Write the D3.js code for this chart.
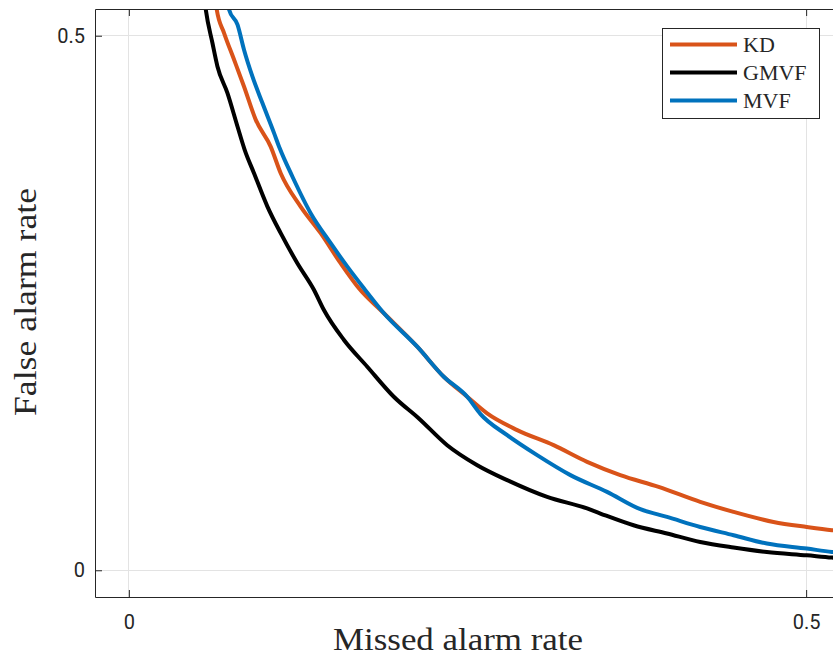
<!DOCTYPE html>
<html>
<head>
<meta charset="utf-8">
<script src="https://cdn.jsdelivr.net/npm/d3@7"></script>
<style>
  html, body { margin: 0; padding: 0; background: #fff; }
  svg { display: block; }
</style>
</head>
<body>
<svg id="chart" width="833" height="662"></svg>
<script>
// ---- data (missed alarm rate, false alarm rate) ----
const seriesNames = ["KD", "GMVF", "MVF"];

const kdX = [0.0640, 0.0649, 0.0703, 0.0777, 0.0850, 0.0937, 0.1047, 0.1121, 0.1268, 0.1416, 0.1563, 0.1698, 0.1883, 0.2129, 0.2325, 0.2498, 0.2645, 0.2867, 0.3136, 0.3383, 0.3628, 0.3911, 0.4218, 0.4464, 0.4759, 0.5005, 0.5190, 0.5300];
const kdY = [0.5320, 0.5243, 0.5025, 0.4775, 0.4525, 0.4213, 0.3963, 0.3714, 0.3402, 0.3153, 0.2872, 0.2638, 0.2404, 0.2091, 0.1810, 0.1623, 0.1467, 0.1311, 0.1170, 0.1014, 0.0890, 0.0780, 0.0640, 0.0546, 0.0452, 0.0405, 0.0375, 0.0362];

const gmvfX = [0.0560, 0.0568, 0.0617, 0.0654, 0.0728, 0.0802, 0.0855, 0.0924, 0.1023, 0.1121, 0.1244, 0.1367, 0.1440, 0.1588, 0.1760, 0.1956, 0.2141, 0.2350, 0.2572, 0.2793, 0.3088, 0.3383, 0.3481, 0.3726, 0.3973, 0.4218, 0.4464, 0.4710, 0.5005, 0.5190, 0.5300];
const gmvfY = [0.5320, 0.5243, 0.4932, 0.4713, 0.4463, 0.4151, 0.3933, 0.3714, 0.3402, 0.3153, 0.2872, 0.2622, 0.2434, 0.2154, 0.1904, 0.1623, 0.1420, 0.1170, 0.0983, 0.0843, 0.0686, 0.0578, 0.0531, 0.0421, 0.0344, 0.0265, 0.0213, 0.0171, 0.0140, 0.0119, 0.0110];

const mvfX = [0.0730, 0.0740, 0.0802, 0.0850, 0.0912, 0.0986, 0.1072, 0.1113, 0.1207, 0.1342, 0.1490, 0.1613, 0.1735, 0.1883, 0.2129, 0.2325, 0.2498, 0.2596, 0.2793, 0.3014, 0.3260, 0.3530, 0.3776, 0.3973, 0.4218, 0.4464, 0.4710, 0.5005, 0.5190, 0.5300];
const mvfY = [0.5320, 0.5243, 0.5103, 0.4869, 0.4619, 0.4370, 0.4089, 0.3949, 0.3683, 0.3340, 0.3059, 0.2840, 0.2638, 0.2404, 0.2091, 0.1810, 0.1623, 0.1461, 0.1264, 0.1077, 0.0890, 0.0733, 0.0571, 0.0499, 0.0405, 0.0328, 0.0250, 0.0203, 0.0171, 0.0160];

const xTicks = [0, 0.5];
const yTicks = [0, 0.5];
const xDomain = [-0.025, 0.525];
const yDomain = [-0.025, 0.525];

const colors = { KD: "#D95319", GMVF: "#000000", MVF: "#0072BD" };

// ---- layout ----
const svg = d3.select("#chart");
const pLeft = 95, pTop = 9, pRight = 840, pBottom = 597;

const x = d3.scaleLinear().domain(xDomain).range([pLeft, pRight]);
const y = d3.scaleLinear().domain(yDomain).range([pBottom, pTop]);

const axisColor = "#262626";
const gridColor = "#e3e3e3";

// grid
const grid = svg.append("g");
grid.selectAll("line.gx").data(xTicks).join("line").attr("class", "gx")
  .attr("x1", d => x(d)).attr("x2", d => x(d))
  .attr("y1", pTop).attr("y2", pBottom)
  .attr("stroke", gridColor).attr("stroke-width", 1).attr("shape-rendering", "crispEdges");
grid.selectAll("line.gy").data(yTicks).join("line").attr("class", "gy")
  .attr("y1", d => y(d)).attr("y2", d => y(d))
  .attr("x1", pLeft).attr("x2", pRight)
  .attr("stroke", gridColor).attr("stroke-width", 1).attr("shape-rendering", "crispEdges");

// clip
svg.append("clipPath").attr("id", "plotclip")
  .append("rect").attr("x", pLeft).attr("y", pTop)
  .attr("width", pRight - pLeft).attr("height", pBottom - pTop);

const line = d3.line().curve(d3.curveMonotoneX).x(d => x(d[0])).y(d => y(d[1]));
const series = [
  { name: "KD", xs: kdX, ys: kdY },
  { name: "MVF", xs: mvfX, ys: mvfY },
  { name: "GMVF", xs: gmvfX, ys: gmvfY }
];
const plot = svg.append("g").attr("clip-path", "url(#plotclip)");
series.forEach(s => {
  const pts = s.xs.map((v, i) => [v, s.ys[i]]);
  plot.append("path").datum(pts)
    .attr("d", line)
    .attr("fill", "none")
    .attr("stroke", colors[s.name])
    .attr("stroke-width", 4)
    .attr("stroke-linejoin", "round");
});

// axes with inward ticks on all four sides
const tickLen = 7;
const fmt = d => (d === 0 ? "0" : String(d));
const axB = d3.axisBottom(x).tickValues(xTicks).tickSizeInner(-tickLen).tickSizeOuter(0).tickPadding(18).tickFormat(fmt);
const axT = d3.axisTop(x).tickValues(xTicks).tickSizeInner(-tickLen).tickSizeOuter(0).tickFormat("");
const axL = d3.axisLeft(y).tickValues(yTicks).tickSizeInner(-tickLen).tickSizeOuter(0).tickPadding(10).tickFormat(fmt);
const axR = d3.axisRight(y).tickValues(yTicks).tickSizeInner(-tickLen).tickSizeOuter(0).tickFormat("");

function styleAxis(g) {
  g.select(".domain").attr("stroke", axisColor).attr("stroke-width", 1);
  g.selectAll(".tick line").attr("stroke", axisColor).attr("stroke-width", 1);
  g.selectAll(".tick text").attr("fill", axisColor)
    .attr("font-family", "Roboto, 'Liberation Sans', sans-serif").attr("font-size", 20);
}
svg.append("g").attr("transform", `translate(0,${pBottom})`).call(axB).call(styleAxis);
svg.append("g").attr("transform", `translate(0,${pTop})`).call(axT).call(styleAxis);
svg.append("g").attr("transform", `translate(${pLeft},0)`).call(axL).call(styleAxis);
svg.append("g").attr("transform", `translate(${pRight},0)`).call(axR).call(styleAxis);

// axis labels
const serif = "'Liberation Serif', 'DejaVu Serif', serif";
svg.append("text")
  .attr("x", 458).attr("y", 650)
  .attr("text-anchor", "middle")
  .attr("font-family", serif).attr("font-size", 31)
  .attr("fill", axisColor)
  .attr("textLength", 250).attr("lengthAdjust", "spacingAndGlyphs")
  .text("Missed alarm rate");
svg.append("text")
  .attr("transform", "translate(36,302) rotate(-90)")
  .attr("text-anchor", "middle")
  .attr("font-family", serif).attr("font-size", 31)
  .attr("fill", axisColor)
  .attr("textLength", 228).attr("lengthAdjust", "spacingAndGlyphs")
  .text("False alarm rate");

// legend
const lg = svg.append("g");
lg.append("rect").attr("x", 662.5).attr("y", 28.5).attr("width", 157).attr("height", 90)
  .attr("fill", "#fff").attr("stroke", axisColor).attr("stroke-width", 1);
const legendOrder = ["KD", "GMVF", "MVF"];
const legendY = d3.scalePoint().domain(legendOrder).range([44.5, 100.5]);
legendOrder.forEach(n => {
  lg.append("line").attr("x1", 670).attr("x2", 737)
    .attr("y1", legendY(n)).attr("y2", legendY(n))
    .attr("stroke", colors[n]).attr("stroke-width", 4);
  lg.append("text").attr("x", 743).attr("y", legendY(n) + 7.5)
    .attr("font-family", serif).attr("font-size", 22)
    .attr("fill", axisColor)
    .text(n);
});
</script>
</body>
</html>
